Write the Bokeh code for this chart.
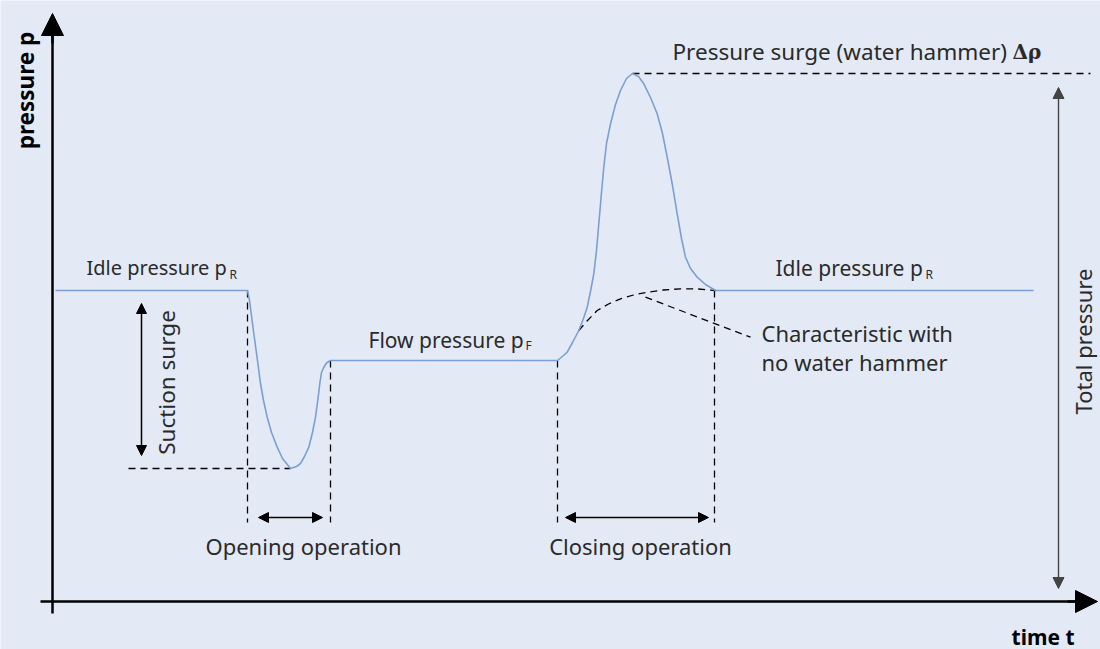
import math
from bokeh.plotting import figure
from bokeh.models import Range1d, Arrow, NormalHead
from bokeh.core.properties import value
from bokeh.embed import file_html
from bokeh.resources import INLINE

# ---- data (time t, pressure p), schematic units ----
P_IDLE = 311
P_FLOW = 241
P_SUCTION_MIN = 133
P_PEAK = 528

curve_t = [3, 195, 197, 201.3, 205, 208, 211, 214.7, 219, 224.7, 230, 238, 244, 248, 252,
           256.3, 260, 263, 265.5, 267.3, 269, 271.3, 274, 278, 505,
           511, 514.7, 520, 526.3, 531, 534.7, 538, 541.3, 544, 546.3, 549, 551.3, 554, 558,
           563, 568, 574, 580, 586, 591.3, 598, 604.7, 610, 614.7, 620, 624.7, 629, 633,
           638, 644.7, 653, 663, 981]
curve_p = [311, 311, 301, 268, 241, 218, 201, 184.3, 169, 154.3, 143, 133, 135, 138, 145,
           154.3, 169, 184.3, 203, 218, 229, 234.3, 238.5, 241, 241,
           246, 249.3, 259, 271, 283, 294.3, 310, 327.7, 351, 377.7, 409, 434.3, 458, 477.7,
           497, 511, 523, 528, 525, 517.7, 504, 487.7, 468, 444.3, 416, 387.7, 363, 344.3,
           333, 324.3, 317, 311, 311]

nohammer_t = [526.3, 535, 544.7, 556, 568, 581, 594.7, 611, 628, 646, 663]
nohammer_p = [271, 281, 291, 297.5, 302.7, 306.5, 309.3, 311.5, 312.7, 312.5, 311]

t_open_start, t_open_end = 195, 278
t_close_start, t_close_end = 505, 662
t_axis_end = 1045
p_axis_end = 588

BG = "#e4eaf5"
BLUE = "#7b9fd3"
INK = "#2a2a2a"
FONT = "Noto Sans"
DY = 8  # baseline correction

p = figure(width=1100, height=649, output_backend="svg", toolbar_location=None,
           x_range=Range1d(-52, 1048), y_range=Range1d(-48, 601),
           x_axis_location=None, y_axis_location=None, min_border=0)
p.background_fill_color = BG
p.border_fill_color = BG
p.outline_line_color = None
p.grid.visible = False

# axes
p.segment(x0=[0], y0=[-12], x1=[0], y1=[p_axis_end - 10], line_color="black", line_width=2.5)
p.segment(x0=[-12], y0=[0], x1=[t_axis_end - 10], y1=[0], line_color="black", line_width=2.5)
p.add_layout(Arrow(end=NormalHead(size=22, fill_color="black", line_color="black"),
                   x_start=0, y_start=p_axis_end - 30, x_end=0, y_end=p_axis_end,
                   line_color="black", line_width=2.5))
p.add_layout(Arrow(end=NormalHead(size=22, fill_color="black", line_color="black"),
                   x_start=t_axis_end - 30, y_start=0, x_end=t_axis_end, y_end=0,
                   line_color="black", line_width=2.5))

# dashed helper lines
dash = dict(line_color="black", line_width=1.3, line_dash="7 5")
p.segment(x0=[t_open_start, t_open_end, t_close_start, t_close_end],
          y0=[P_IDLE, P_FLOW, P_FLOW, P_IDLE],
          x1=[t_open_start, t_open_end, t_close_start, t_close_end],
          y1=[79, 79, 79, 79], **dash)
p.segment(x0=[76, 580], y0=[P_SUCTION_MIN, P_PEAK], x1=[238, 1038], y1=[P_SUCTION_MIN, P_PEAK], **dash)
p.line(nohammer_t, nohammer_p, **dash)
p.segment(x0=[593], y0=[304.3], x1=[698], y1=[264.3], **dash)

# main curve
p.line(curve_t, curve_p, line_color=BLUE, line_width=1.6)

# double arrows
def darrow(x0, y0, x1, y1, size=10, color="black", width=1.5):
    p.add_layout(Arrow(start=NormalHead(size=size, fill_color=color, line_color=color),
                       end=NormalHead(size=size, fill_color=color, line_color=color),
                       x_start=x0, y_start=y0, x_end=x1, y_end=y1,
                       line_color=color, line_width=width))

darrow(89, 298, 89, 146)
darrow(206, 84, 270, 84)
darrow(513, 84, 656, 84)
darrow(1006, 514, 1006, 13, size=11, color="#444444", width=1.4)

# texts
def txt(x, y, s, size=22, align="left", baseline="alphabetic", angle=0, style="normal",
        font=FONT, color=INK):
    if baseline == "alphabetic":
        y = y + DY
    p.text(x=[x], y=[y], text=[s], text_font=value(font), text_font_size=f"{size}px",
           text_align=align, text_baseline=baseline, angle=angle, text_font_style=style,
           text_color=color)

txt(34, 326, "Idle pressure p", size=20)
txt(177, 319, "R", size=12)
txt(316, 254, "Flow pressure p", size=21)
txt(473, 248, "F", size=12)
txt(723, 326, "Idle pressure p", size=21)
txt(873, 319, "R", size=12)
txt(709, 261, "Characteristic with")
txt(709, 232, "no water hammer")
txt(620, 542, "Pressure surge (water hammer)", size=22.5)
txt(960, 542, "Δρ", style="bold", font="DejaVu Serif", size=20)
txt(251, 48, "Opening operation", align="center")
txt(588, 48, "Closing operation", align="center")
txt(114, 219, "Suction surge", size=22.5, align="center", baseline="middle", angle=math.pi / 2)
txt(1030, 260, "Total pressure", size=22, align="center", baseline="middle", angle=math.pi / 2)
txt(-27, 511, "pressure p", size=22.5, align="center", baseline="middle", angle=math.pi / 2,
    style="bold", color="black")
txt(1022, -43, "time t", size=21, align="right", style="bold", color="black")

open("out.html", "w").write(file_html(p, INLINE))
